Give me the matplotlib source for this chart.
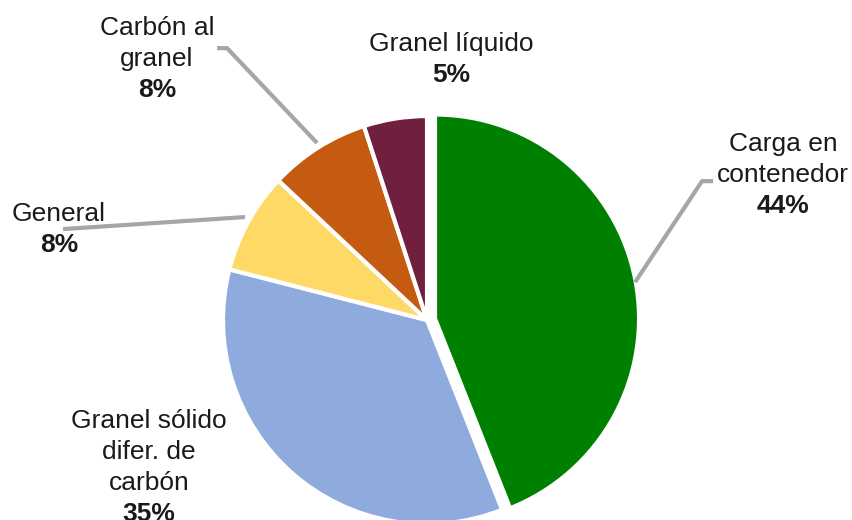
import matplotlib.pyplot as plt

# cuota por tipo de carga (%), en el orden del reloj desde arriba
categorias = ["Carga en\ncontenedor", "Granel sólido\ndifer. de\ncarbón", "General",
              "Carbón al\ngranel", "Granel líquido"]
valores = [44, 35, 8, 8, 5]
colores = ["#008000", "#8FAADC", "#FFD966", "#C55A11", "#701F3F"]
separar = [0.04, 0, 0, 0, 0]

# posicion de la etiqueta (x, linea base del %), en radios del pastel
pos_etiquetas = [(1.745, 0.525), (-1.363, -0.985), (-1.804, 0.333),
                 (-1.324, 1.093), (0.118, 1.167)]
# lineas guia (solo algunas etiquetas las tienen)
guias = {
    0: [(1.402, 0.681), (1.348, 0.681), (1.020, 0.186)],
    2: [(-1.784, 0.446), (-0.892, 0.505)],
    3: [(-1.029, 1.333), (-0.980, 1.333), (-0.539, 0.868)],
}

plt.rcParams['font.family'] = ['Liberation Sans', 'DejaVu Sans']

fig = plt.figure(figsize=(8.53, 5.2), dpi=100)
ax = fig.add_axes([0, 0, 1, 1])

ax.pie(valores, colors=colores, startangle=90, counterclock=False,
       explode=separar, radius=1,
       wedgeprops=dict(edgecolor="white", linewidth=3))

for i, pts in guias.items():
    xs = [p[0] for p in pts]
    ys = [p[1] for p in pts]
    ax.plot(xs, ys, color="#A6A6A6", linewidth=3, solid_capstyle="butt", zorder=1)

paso = 0.152
for nombre, val, (x, y) in zip(categorias, valores, pos_etiquetas):
    ax.text(x, y + paso, nombre, ha="center", va="baseline", multialignment="center",
            fontsize=19, color="#1A1A1A", linespacing=1.36)
    ax.text(x, y, f"{val}%", ha="center", va="baseline", fontsize=19,
            fontweight="bold", color="#1A1A1A")

ax.set_xlim(-2.093, 2.088)
ax.set_ylim(-0.980, 1.569)
ax.set_aspect("equal")
ax.axis("off")

fig.savefig("out.png", dpi=100)
